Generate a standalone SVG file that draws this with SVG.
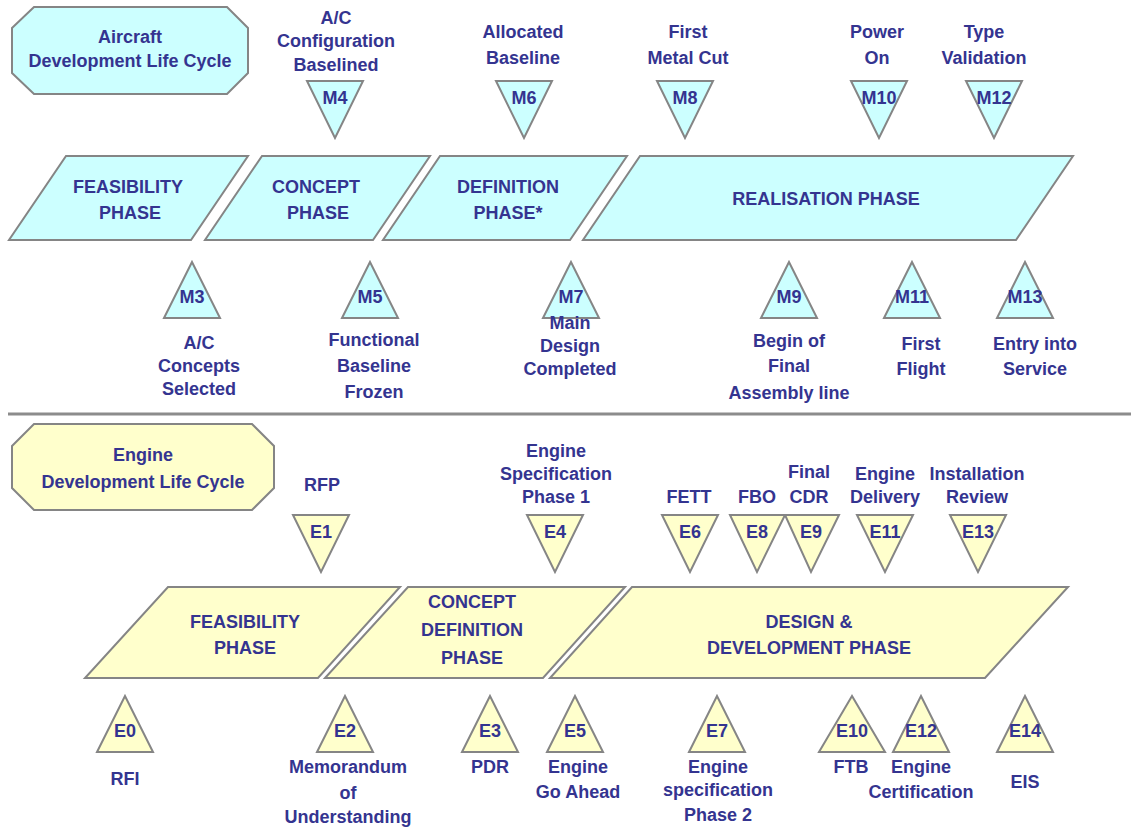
<svg xmlns="http://www.w3.org/2000/svg" width="1131" height="827" viewBox="0 0 1131 827">
<style>
.c{fill:#ccffff;stroke:#858585;stroke-width:2;stroke-linejoin:miter}
.y{fill:#ffffcc;stroke:#858585;stroke-width:2;stroke-linejoin:miter}
text{font-family:"Liberation Sans",Arial,sans-serif;font-weight:bold;font-size:18px;fill:#343490;text-anchor:middle}
</style>
<rect width="1131" height="827" fill="#ffffff"/>
<g id="connectors">
<line x1="8" y1="414" x2="1131" y2="414" stroke="#8c8c8c" stroke-width="3"/>
</g>
<!-- Aircraft section -->
<g id="aircraft-title">
<polygon class="c" points="12,28 34,7 227,7 248,28 248,73 227,94 34,94 12,73"/>
<text x="130" y="43">Aircraft</text>
<text x="130" y="67">Development Life Cycle</text>
</g>
<g id="M4">
<polygon class="c" points="307,81 363,81 335,138"/>
<text x="335" y="104">M4</text>
<text x="336" y="24">A/C</text>
<text x="336" y="47">Configuration</text>
<text x="336" y="71">Baselined</text>
</g>
<g id="M6">
<polygon class="c" points="496,81 552,81 524,138"/>
<text x="524" y="104">M6</text>
<text x="523" y="38">Allocated</text>
<text x="523" y="64">Baseline</text>
</g>
<g id="M8">
<polygon class="c" points="657,81 713,81 685,138"/>
<text x="685" y="104">M8</text>
<text x="688" y="38">First</text>
<text x="688" y="64">Metal Cut</text>
</g>
<g id="M10">
<polygon class="c" points="851,81 907,81 879,138"/>
<text x="879" y="104">M10</text>
<text x="877" y="38">Power</text>
<text x="877" y="64">On</text>
</g>
<g id="M12">
<polygon class="c" points="966,81 1022,81 994,138"/>
<text x="994" y="104">M12</text>
<text x="984" y="38">Type</text>
<text x="984" y="64">Validation</text>
</g>
<g id="a-feasibility">
<polygon class="c" points="66,156 248,156 191,240 9,240"/>
<text x="128" y="193">FEASIBILITY</text>
<text x="130" y="219">PHASE</text>
</g>
<g id="a-concept">
<polygon class="c" points="262,156 430,156 373,240 205,240"/>
<text x="316" y="193">CONCEPT</text>
<text x="318" y="219">PHASE</text>
</g>
<g id="a-definition">
<polygon class="c" points="440,156 627,156 570,240 383,240"/>
<text x="508" y="193">DEFINITION</text>
<text x="508" y="219">PHASE*</text>
</g>
<g id="a-realisation">
<polygon class="c" points="640,156 1073,156 1016,240 583,240"/>
<text x="826" y="205">REALISATION PHASE</text>
</g>
<g id="M3">
<polygon class="c" points="192,262 164,318 220,318"/>
<text x="192" y="303">M3</text>
<text x="199" y="349">A/C</text>
<text x="199" y="372">Concepts</text>
<text x="199" y="395">Selected</text>
</g>
<g id="M5">
<polygon class="c" points="370,262 342,318 398,318"/>
<text x="370" y="303">M5</text>
<text x="374" y="346">Functional</text>
<text x="374" y="372">Baseline</text>
<text x="374" y="398">Frozen</text>
</g>
<g id="M7">
<polygon class="c" points="571,262 543,318 599,318"/>
<text x="571" y="303">M7</text>
<text x="570" y="329">Main</text>
<text x="570" y="352">Design</text>
<text x="570" y="375">Completed</text>
</g>
<g id="M9">
<polygon class="c" points="789,262 761,318 817,318"/>
<text x="789" y="303">M9</text>
<text x="789" y="347">Begin of</text>
<text x="789" y="372">Final</text>
<text x="789" y="399">Assembly line</text>
</g>
<g id="M11">
<polygon class="c" points="912,262 884,318 940,318"/>
<text x="912" y="303">M11</text>
<text x="921" y="350">First</text>
<text x="921" y="375">Flight</text>
</g>
<g id="M13">
<polygon class="c" points="1025,262 997,318 1053,318"/>
<text x="1025" y="303">M13</text>
<text x="1035" y="350">Entry into</text>
<text x="1035" y="375">Service</text>
</g>
<!-- Engine section -->
<g id="engine-title">
<polygon class="y" points="12,446 34,424 252,424 274,446 274,488 252,510 34,510 12,488"/>
<text x="143" y="461">Engine</text>
<text x="143" y="488">Development Life Cycle</text>
</g>
<g id="E1">
<polygon class="y" points="293,515 349,515 321,572"/>
<text x="321" y="538">E1</text>
<text x="322" y="491">RFP</text>
</g>
<g id="E4">
<polygon class="y" points="527,515 583,515 555,572"/>
<text x="555" y="538">E4</text>
<text x="556" y="457">Engine</text>
<text x="556" y="480">Specification</text>
<text x="556" y="503">Phase 1</text>
</g>
<g id="E6">
<polygon class="y" points="662,515 718,515 690,572"/>
<text x="690" y="538">E6</text>
<text x="689" y="503">FETT</text>
</g>
<g id="E8">
<polygon class="y" points="730,515 785,515 757,572"/>
<text x="757" y="538">E8</text>
<text x="757" y="503">FBO</text>
</g>
<g id="E9">
<polygon class="y" points="785,515 839,515 811,572"/>
<text x="811" y="538">E9</text>
<text x="809" y="478">Final</text>
<text x="809" y="503">CDR</text>
</g>
<g id="E11">
<polygon class="y" points="857,515 913,515 885,572"/>
<text x="885" y="538">E11</text>
<text x="885" y="480">Engine</text>
<text x="885" y="503">Delivery</text>
</g>
<g id="E13">
<polygon class="y" points="950,515 1006,515 978,572"/>
<text x="978" y="538">E13</text>
<text x="977" y="480">Installation</text>
<text x="977" y="503">Review</text>
</g>
<g id="e-feasibility">
<polygon class="y" points="168,587 400,587 318,678 85,678"/>
<text x="245" y="628">FEASIBILITY</text>
<text x="245" y="654">PHASE</text>
</g>
<g id="e-concept-definition">
<polygon class="y" points="408,587 625,587 543,678 325,678"/>
<text x="472" y="608">CONCEPT</text>
<text x="472" y="636">DEFINITION</text>
<text x="472" y="664">PHASE</text>
</g>
<g id="e-design-development">
<polygon class="y" points="632,587 1068,587 985,678 550,678"/>
<text x="809" y="628">DESIGN &amp;</text>
<text x="809" y="654">DEVELOPMENT PHASE</text>
</g>
<g id="E0">
<polygon class="y" points="125,696 97,752 153,752"/>
<text x="125" y="737">E0</text>
<text x="125" y="785">RFI</text>
</g>
<g id="E2">
<polygon class="y" points="345,696 317,752 373,752"/>
<text x="345" y="737">E2</text>
<text x="348" y="773">Memorandum</text>
<text x="348" y="799">of</text>
<text x="348" y="823">Understanding</text>
</g>
<g id="E3">
<polygon class="y" points="490,696 462,752 518,752"/>
<text x="490" y="737">E3</text>
<text x="490" y="773">PDR</text>
</g>
<g id="E5">
<polygon class="y" points="575,696 547,752 603,752"/>
<text x="575" y="737">E5</text>
<text x="578" y="773">Engine</text>
<text x="578" y="798">Go Ahead</text>
</g>
<g id="E7">
<polygon class="y" points="717,696 689,752 745,752"/>
<text x="717" y="737">E7</text>
<text x="718" y="773">Engine</text>
<text x="718" y="796">specification</text>
<text x="718" y="821">Phase 2</text>
</g>
<g id="E10">
<polygon class="y" points="852,696 819,752 885,752"/>
<text x="852" y="737">E10</text>
<text x="851" y="773">FTB</text>
</g>
<g id="E12">
<polygon class="y" points="921,696 893,752 949,752"/>
<text x="921" y="737">E12</text>
<text x="921" y="773">Engine</text>
<text x="921" y="798">Certification</text>
</g>
<g id="E14">
<polygon class="y" points="1025,696 997,752 1053,752"/>
<text x="1025" y="737">E14</text>
<text x="1025" y="788">EIS</text>
</g>
</svg>
